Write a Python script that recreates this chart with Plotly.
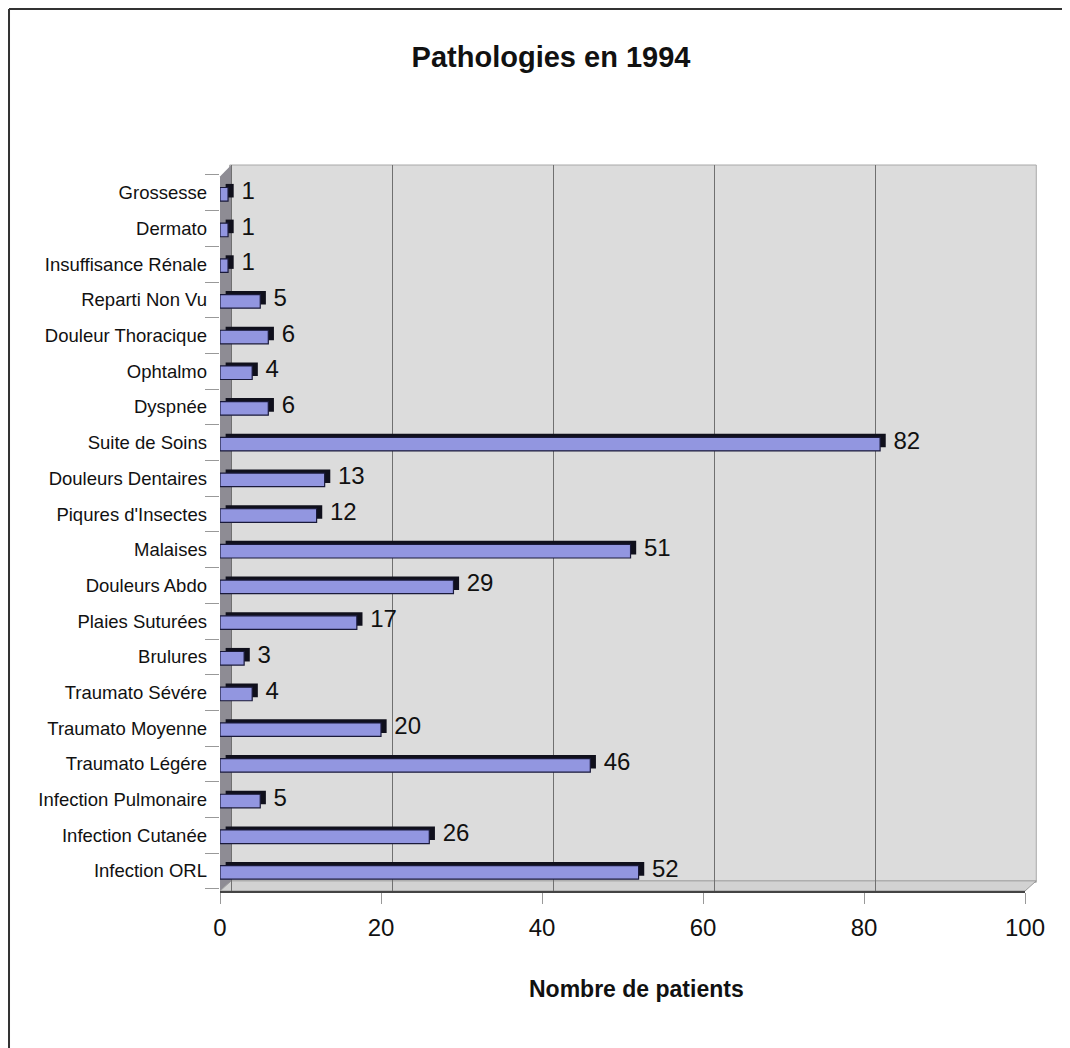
import plotly.graph_objects as go

categories = ["Infection ORL", "Infection Cutanée", "Infection Pulmonaire", "Traumato Légére",
              "Traumato Moyenne", "Traumato Sévére", "Brulures", "Plaies Suturées",
              "Douleurs Abdo", "Malaises", "Piqures d'Insectes", "Douleurs Dentaires",
              "Suite de Soins", "Dyspnée", "Ophtalmo", "Douleur Thoracique",
              "Reparti Non Vu", "Insuffisance Rénale", "Dermato", "Grossesse"]
values = [52, 26, 5, 46, 20, 4, 3, 17, 29, 51, 12, 13, 82, 6, 4, 6, 5, 1, 1, 1]
x_ticks = [0, 20, 40, 60, 80, 100]

FONT = "Liberation Sans, Arial, sans-serif"

fig = go.Figure()
# depth (3D side) of each bar
fig.add_trace(go.Bar(
    y=categories, x=values, base=0.7, orientation="h",
    width=0.38, offset=-0.13,
    marker=dict(color="#10101c", line=dict(width=0)),
    hoverinfo="skip", showlegend=False))
# front face
fig.add_trace(go.Bar(
    y=categories, x=values, orientation="h",
    width=0.38, offset=-0.23,
    marker=dict(color="#9296e0", line=dict(color="#1a1a3a", width=1.2)),
    showlegend=False))
# value labels
fig.add_trace(go.Scatter(
    y=categories, x=values, mode="text",
    text=["\u00a0\u00a0" + str(v) for v in values], textposition="middle right",
    textfont=dict(family=FONT, size=24, color="#111"),
    hoverinfo="skip", showlegend=False, cliponaxis=False))
# carrier for back-wall grid axis
fig.add_trace(go.Scatter(x=[None], y=[None], xaxis="x2", yaxis="y",
                         mode="markers", showlegend=False, hoverinfo="skip"))

fig.update_layout(
    width=1070, height=1048,
    margin=dict(l=212, r=53, t=157, b=165),
    paper_bgcolor="white", plot_bgcolor="white",
    barmode="overlay",
    font=dict(family=FONT, color="#111"),
    title=dict(text="<b>Pathologies en 1994</b>", x=0.5075, xanchor="center",
               y=1 - 49 / 1048, yanchor="middle",
               font=dict(family=FONT, size=29, color="#111")),
    xaxis=dict(range=[0, 100], tickvals=x_ticks, showgrid=False, zeroline=False,
               ticks="outside", ticklen=11, tickcolor="#999", ticklabelstandoff=3,
               tickfont=dict(family=FONT, size=24, color="#111"),
               showline=True, linecolor="#444", linewidth=1.5),
    xaxis2=dict(overlaying="x", range=[-1.37, 98.63], tickvals=x_ticks,
                showgrid=True, gridcolor="#707070", gridwidth=1,
                showticklabels=False, ticks="", zeroline=False, showline=False),
    yaxis=dict(type="category", categoryorder="array", categoryarray=categories,
               range=[-0.56, 19.78],
               ticks="outside", tickson="boundaries", ticklen=14, tickcolor="#999",
               ticklabelstandoff=12,
               tickfont=dict(family=FONT, size=18.5, color="#111"),
               showgrid=False, showline=False, zeroline=False),
    annotations=[dict(text="<b>Nombre de patients</b>", xref="paper", yref="paper",
                      x=0.518, y=-0.135, xanchor="center", yanchor="middle",
                      showarrow=False, font=dict(family=FONT, size=23, color="#111"))],
    shapes=[
        # back wall
        dict(type="rect", xref="paper", yref="paper", x0=0.012, x1=1.014, y0=0.012, y1=1.0,
             fillcolor="#dcdcdc", line=dict(color="#a8a8a8", width=1), layer="below"),
        # left wall of 3D frame
        dict(type="path", xref="paper", yref="paper",
             path="M 0,0.0 L 0.014,0.014 L 0.014,1.0 L 0,0.984 Z",
             fillcolor="#8e8c94", line=dict(width=0), layer="below"),
        # floor
        dict(type="path", xref="paper", yref="paper",
             path="M 0,0 L 1.0,0 L 1.014,0.014 L 0.014,0.014 Z",
             fillcolor="#d2d2d2", line=dict(color="#999", width=1), layer="below"),
        # outer frame (top and left)
        dict(type="line", xref="paper", yref="paper", x0=-0.2621, x1=1.07, y0=1.2149, y1=1.2149,
             line=dict(color="#333", width=2)),
        dict(type="line", xref="paper", yref="paper", x0=-0.2621, x1=-0.2621, y0=1.2149, y1=-0.24,
             line=dict(color="#333", width=2)),
    ],
)

fig.write_html("out.html")
